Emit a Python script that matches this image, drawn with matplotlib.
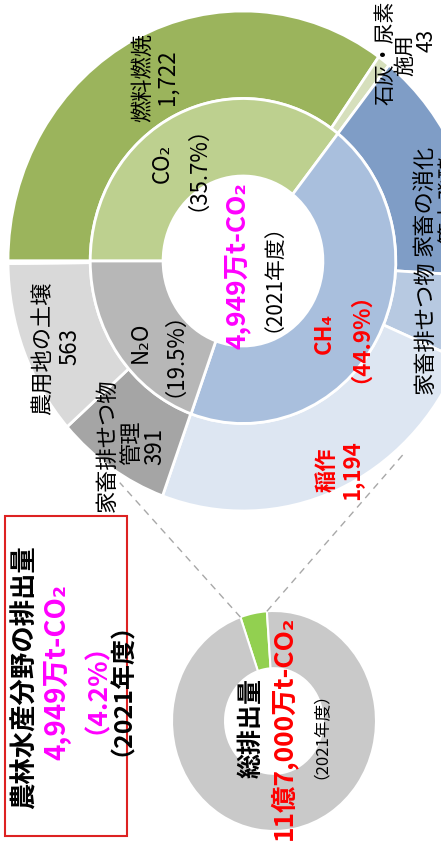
import matplotlib
matplotlib.use("Agg")
import matplotlib.pyplot as plt
from matplotlib.patches import Rectangle
from matplotlib.lines import Line2D
import numpy as np

plt.rcParams['font.family'] = ['Noto Sans CJK JP', 'DejaVu Sans']

# ---------------- data ----------------
source_names = ['燃料燃焼', '石灰・尿素\n施用', '家畜の消化\n管内発酵', '家畜排せつ物\n管理',
                '稲作', '家畜排せつ物\n管理', '農用地の土壌', 'その他']
source_values = [1722, 43, 757, 271, 1194, 391, 563, 8]
source_colors = ['#9BB45C', '#D6DFBC', '#7F9DC6', '#B7C9E1', '#DDE6F2', '#A5A5A5', '#D9D9D9', '#D9D9D9']

gas_names = ['CO₂', 'CH₄', 'N₂O']
gas_pct = [35.7, 44.9, 19.5]
gas_colors = ['#BDD08F', '#A9BFDD', '#B7B7B7']

agri_total = 4949          # 万t-CO2
national_total = 117000    # 万t-CO2
national_values = [agri_total, national_total - agri_total]
national_colors = ['#92D050', '#C9C9C9']
year_label = '（2021年度）'

# ---------------- figure ----------------
W, H = 441, 854
fig = plt.figure(figsize=(W / 100, H / 100), dpi=100)
fig.patch.set_facecolor('white')

L = 1.1


def donut_axes(cx, cy, rx, ry):
    w, h = 2 * L * rx, 2 * L * ry
    return fig.add_axes([(cx - w / 2) / W, (H - cy - h / 2) / H, w / W, h / H])


# big donut (center in pixel coords)
axb = donut_axes(243, 262, 235, 250)
axb.pie(source_values, radius=1.0, startangle=180, counterclock=False,
        colors=source_colors,
        wedgeprops=dict(width=0.35, edgecolor='white', linewidth=2))
axb.pie(gas_pct, radius=0.65, startangle=180, counterclock=False,
        colors=gas_colors,
        wedgeprops=dict(width=0.31, edgecolor='white', linewidth=2))
axb.set_aspect('auto')
axb.set_xlim(-L, L)
axb.set_ylim(-L, L)
axb.axis('off')

# small donut
axs = donut_axes(274, 722, 102, 110)
wedges_s, _ = axs.pie(national_values, radius=1.0, startangle=94, counterclock=True,
                      colors=national_colors,
                      wedgeprops=dict(width=0.52, edgecolor='white', linewidth=1.5))
axs.set_aspect('auto')
axs.set_xlim(-L, L)
axs.set_ylim(-L, L)
axs.axis('off')

# overlay in pixel coords
ov = fig.add_axes([0, 0, 1, 1])
ov.set_xlim(0, W)
ov.set_ylim(H, 0)
ov.axis('off')
ov.patch.set_alpha(0)


def to_ov(ax, x, y):
    d = ax.transData.transform((x, y))
    return ov.transData.inverted().transform(d)


# dashed connector lines from the green wedge to the big donut
g = wedges_s[0]
for th_small, th_big in [(g.theta2, -120.6), (g.theta1, -48.0)]:
    p0 = to_ov(axs, np.cos(np.radians(th_small)), np.sin(np.radians(th_small)))
    p1 = to_ov(axb, 1.03 * np.cos(np.radians(th_big)), 1.03 * np.sin(np.radians(th_big)))
    ov.add_line(Line2D([p0[0], p1[0]], [p0[1], p1[1]], color='#A8A8A8',
                       linestyle=(0, (5, 4)), linewidth=1.0))

# red box
ov.add_patch(Rectangle((5, 517), 122, 320, fill=False, edgecolor='#DD2222', linewidth=1.5))


def T(x, y, s, size, color='black', weight='normal'):
    ov.text(x, y, s, rotation=90, ha='center', va='center', fontsize=size,
            color=color, fontweight=weight)


def TL(xs, ys, lines, size, color='black', weight='normal'):
    for x, y, s in zip(xs, ys, lines):
        T(x, y, s, size, color, weight)


def name_lines(i):
    return source_names[i].split('\n')


# outer labels
TL([143, 167], [78, 77], name_lines(0) + [f"{source_values[0]:,}"], 16)
TL([385, 405, 427], [53, 55, 40], name_lines(1) + [f"{source_values[1]:,}"], 15)
TL([424, 450], [200, 200], name_lines(2), 16)
TL([425], [327], name_lines(3)[:1], 16)
TL([327, 352], [470, 470], name_lines(4) + [f"{source_values[4]:,}"], 16, '#FF0000', 'bold')
TL([107, 132, 155], [445, 443, 446], name_lines(5) + [f"{source_values[5]:,}"], 16)
TL([43, 70], [348, 347], name_lines(6) + [f"{source_values[6]:,}"], 16)

# inner labels
TL([162, 186], [163, 157], [gas_names[0], f"（{gas_pct[0]}%）"], 16)
TL([324, 350], [333, 327], [gas_names[1], f"（{gas_pct[1]}%）"], 16, '#FF0000', 'bold')
TL([140, 163], [342, 343], [gas_names[2], f"（{gas_pct[2]}%）"], 16)

# center of big donut
T(237, 266, f"{agri_total:,}万t-CO₂", 19, '#FF00FF', 'bold')
T(263, 267, year_label, 15)

# box text
share = agri_total / national_total * 100
T(25, 677, '農林水産分野の排出量', 19, 'black', 'bold')
T(57, 672, f"{agri_total:,}万t-CO₂", 20, '#FF00FF', 'bold')
T(83, 675, f"（{share:.1f}%）", 19, '#FF00FF', 'bold')
T(110, 677, year_label, 18, 'black', 'bold')

# small donut center
T(252, 728, '総排出量', 18, 'black', 'bold')
T(283, 728, '11億7,000万t-CO₂', 19, '#FF0000', 'bold')
T(313, 727, year_label, 12)

fig.savefig('out.png', dpi=100, facecolor='white')
